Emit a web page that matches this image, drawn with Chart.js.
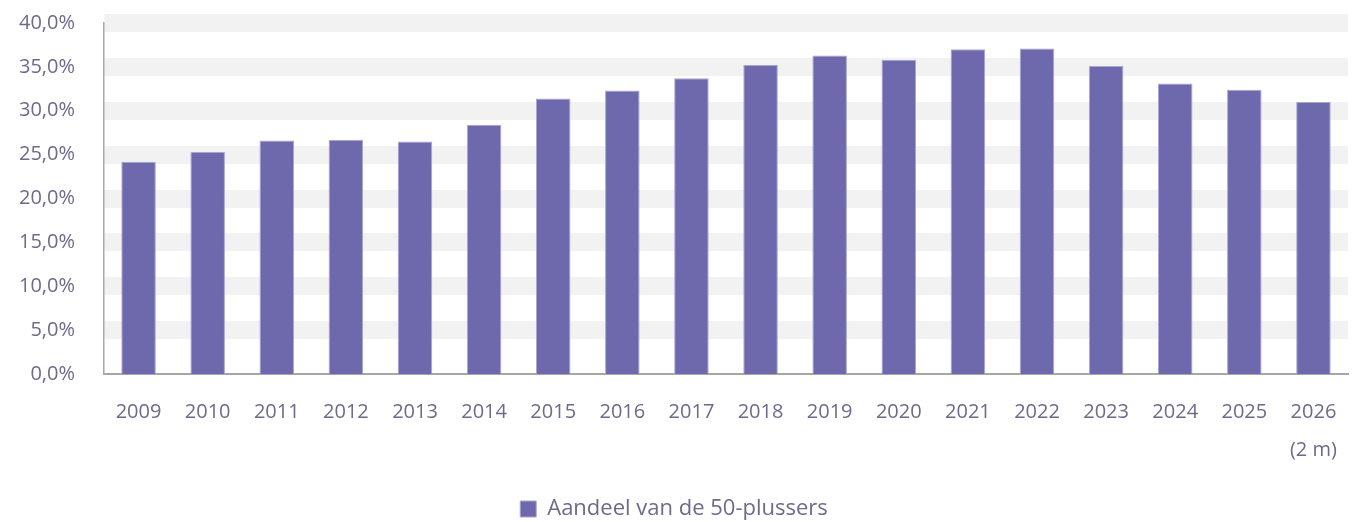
<!DOCTYPE html>
<html>
<head>
<meta charset="utf-8">
<script src="https://cdn.jsdelivr.net/npm/chart.js@4/dist/chart.umd.min.js"></script>
<style>
  html, body { margin: 0; padding: 0; background: #fff; }
  #wrap { width: 1357px; height: 522px; position: relative; }
</style>
</head>
<body>
<div id="wrap"><canvas id="chart-50plus"></canvas></div>
<script>
const years = ['2009', '2010', '2011', '2012', '2013', '2014', '2015', '2016', '2017',
  '2018', '2019', '2020', '2021', '2022', '2023', '2024', '2025', ['2026', '(2 m)']];
const aandeel = [24.2, 25.3, 26.6, 26.7, 26.5, 28.4, 31.4, 32.3, 33.7,
  35.2, 36.3, 35.8, 37.0, 37.1, 35.1, 33.1, 32.4, 31.0];
const seriesLabel = 'Aandeel van de 50-plussers';
const yMax = 40;
const yStep = 5;

const textColor = '#6e6a8a';
const fontFamily = "'Open Sans', sans-serif";

const ctx50 = document.getElementById('chart-50plus');

new Chart(ctx50, {
  type: 'bar',
  data: {
    labels: years,
    datasets: [{
      label: seriesLabel,
      data: aandeel,
      backgroundColor: '#6e69ad',
      borderColor: '#a9a5d3',
      borderWidth: 1,
      barPercentage: 0.5,
      categoryPercentage: 1
    }]
  },
  options: {
    responsive: true,
    maintainAspectRatio: false,
    animation: false,
    layout: {
      padding: { top: 23, right: 9, left: 0, bottom: -8 }
    },
    plugins: {
      tooltip: { enabled: false },
      legend: {
        position: 'bottom',
        labels: {
          boxWidth: 16,
          boxHeight: 16,
          padding: 5,
          color: textColor,
          font: { family: fontFamily, size: 22 }
        }
      }
    },
    scales: {
      x: {
        afterFit(scale) {
          scale.height = 119;
          scale.paddingLeft = 0;
          scale.paddingRight = 0;
        },
        grid: { display: false, drawTicks: false },
        border: { display: true, color: '#a6a6a6', width: 2 },
        ticks: {
          color: textColor,
          padding: 19,
          maxRotation: 0,
          autoSkip: false,
          font: { family: fontFamily, size: 20, lineHeight: 1.9 }
        }
      },
      y: {
        min: 0,
        max: yMax,
        afterFit(scale) {
          scale.width = 104;
          scale.paddingTop = 0;
          scale.paddingBottom = 0;
        },
        grid: {
          drawTicks: false,
          // zero line gets no band, otherwise bars get lifted off the axis
          lineWidth: (c) => c.tick && c.tick.value === 0 ? 0 : 18,
          color: (c) => c.tick && c.tick.value === 0 ? 'rgba(0,0,0,0)' : '#f2f2f2'
        },
        border: { display: true, color: '#a6a6a6', width: 1.5 },
        ticks: {
          stepSize: yStep,
          padding: 29,
          color: textColor,
          font: { family: fontFamily, size: 20 },
          callback: (v) => v.toFixed(1).replace('.', ',') + '%'
        }
      }
    }
  }
});
</script>
</body>
</html>
